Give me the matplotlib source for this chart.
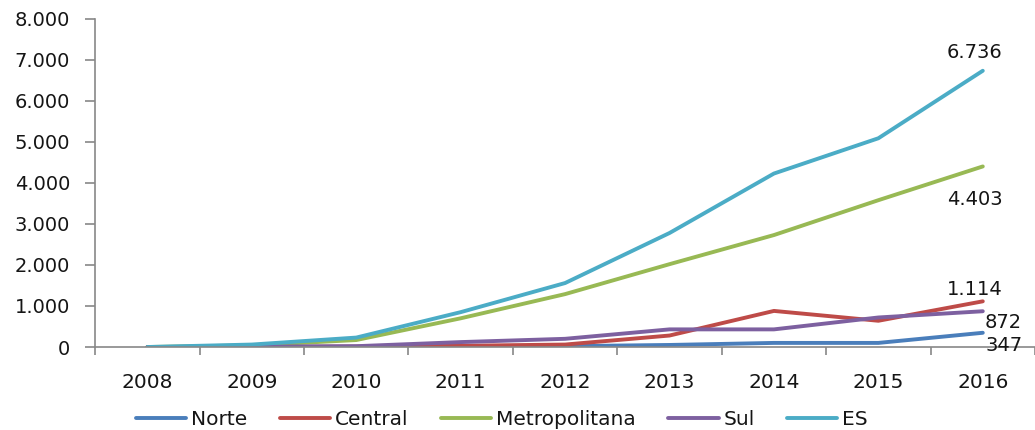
import matplotlib.pyplot as plt
from matplotlib.ticker import FuncFormatter

anos = ['2008', '2009', '2010', '2011', '2012', '2013', '2014', '2015', '2016']
norte = [0, 0, 5, 10, 20, 50, 100, 100, 347]
central = [0, 5, 10, 30, 60, 280, 880, 640, 1114]
metropolitana = [0, 40, 170, 700, 1290, 2020, 2730, 3580, 4403]
sul = [0, 10, 20, 120, 200, 430, 430, 720, 872]
es = [0, 60, 230, 850, 1560, 2780, 4230, 5090, 6736]

series = [('Norte', norte, '#4A7EBB'),
          ('Central', central, '#BE4B48'),
          ('Metropolitana', metropolitana, '#98B954'),
          ('Sul', sul, '#7D60A0'),
          ('ES', es, '#4BACC6')]

plt.rcParams['font.family'] = 'DejaVu Sans'
txt = '#151515'

fig = plt.figure(figsize=(10.35, 4.3), dpi=100)
ax = fig.add_axes([0.092, 0.193, 0.908, 0.763])

x = list(range(len(anos)))
for nome, vals, cor in series:
    ax.plot(x, vals, color=cor, lw=2.8, label=nome, solid_capstyle='round')

# rótulos dos valores finais
fs = 14
ax.annotate('6.736', (8, es[-1]), xytext=(-6, 6), textcoords='offset points',
            ha='center', va='bottom', fontsize=fs, color=txt)
ax.annotate('4.403', (8, metropolitana[-1]), xytext=(-6, -17), textcoords='offset points',
            ha='center', va='top', fontsize=fs, color=txt)
ax.annotate('1.114', (8, central[-1]), xytext=(-6, 2), textcoords='offset points',
            ha='center', va='bottom', fontsize=fs, color=txt)
ax.annotate('872', (8, sul[-1]), xytext=(1, -1), textcoords='offset points',
            ha='left', va='top', fontsize=fs, color=txt)
ax.annotate('347', (8, norte[-1]), xytext=(2, -2), textcoords='offset points',
            ha='left', va='top', fontsize=fs, color=txt)

ax.set_xlim(-0.5, 8.5)
ax.set_ylim(0, 8000)
ax.set_yticks(range(0, 8001, 1000))
ax.yaxis.set_major_formatter(FuncFormatter(lambda v, p: f'{int(v):,}'.replace(',', '.')))

ax.set_xticks([i - 0.5 for i in range(len(anos) + 1)])
ax.set_xticklabels([])
ax.set_xticks(x, minor=True)
ax.set_xticklabels(anos, minor=True)
ax.tick_params(axis='x', which='major', length=6, width=1.2, color='#888888', direction='out')
ax.tick_params(axis='x', which='minor', length=0, pad=19, labelsize=14.5, labelcolor=txt)
ax.tick_params(axis='y', length=7, width=1.2, color='#888888', pad=11, labelsize=14,
               labelcolor=txt)

for s in ['top', 'right']:
    ax.spines[s].set_visible(False)
for s in ['left', 'bottom']:
    ax.spines[s].set_color('#888888')
    ax.spines[s].set_linewidth(1.2)

fig.legend(loc='center', bbox_to_anchor=(0.485, 0.025), ncol=5, frameon=False,
           fontsize=14.5, handlelength=2.5, handletextpad=0.25, columnspacing=1.6,
           labelcolor=txt)

fig.savefig('out.png', dpi=100)
